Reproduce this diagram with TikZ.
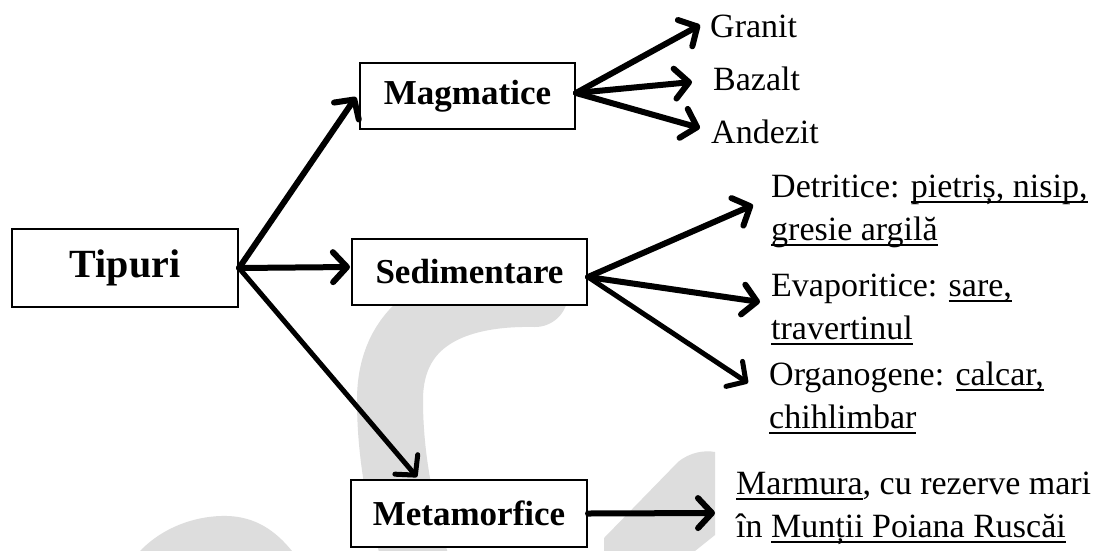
\documentclass[tikz,border=0pt]{standalone}
\usepackage{fontspec}
\setmainfont{Liberation Serif}
\usetikzlibrary{arrows.meta,calc}
\definecolor{wmgray}{RGB}{221,221,221}
\newcommand\ulx[1]{\setbox0=\hbox{#1}\rlap{\rule[-6pt]{\wd0}{2pt}}\box0}
\begin{document}
\begin{tikzpicture}[x=1pt,y=-1pt,
  wm/.style={fill=wmgray,draw=none},
  typebox/.style={draw,line width=2pt,fill=white,inner sep=0pt,
     font=\fontsize{35}{40}\selectfont\bfseries},
  leaf/.style={anchor=base west,inner sep=0pt,font=\fontsize{34}{43}\selectfont},
  arr/.style={line width=6pt,line cap=round,line join=round,
     -{Straight Barb[length=14pt,width=30pt,round]}},
  thinarr/.style={arr,line width=5pt}]
\fill[white] (0,0) rectangle (1100,550);
\useasboundingbox (0,0) rectangle (1100,550);
% watermark
\draw[wmgray,line width=66pt,line cap=round] (535,294) .. controls (440,292) and (390,330) .. (390,400) .. controls (390,455) and (400,510) .. (420,575);
\fill[wm] (140,551) .. controls (165,525) and (200,515) .. (228,516) .. controls (255,517) and (275,530) .. (292,551) -- cycle;
\fill[wm] (604,551) -- (604,538) -- (678,462) .. controls (690,452) and (705,450) .. (715,452) -- (715,535) -- (695,551) -- cycle;
% boxes
\node[typebox,minimum width=226pt,minimum height=78pt,font=\fontsize{40}{44}\selectfont\bfseries] (tip) at (125,268) {Tipuri};
\node[typebox,minimum width=215pt,minimum height=66pt] (mag) at (467.5,96) {Magmatice};
\node[typebox,minimum width=235pt,minimum height=66pt] (sed) at (469.5,272) {Sedimentare};
\node[typebox,minimum width=236pt,minimum height=67pt] (met) at (469,513.5) {Metamorfice};
% leaves
\node[leaf] (gra) at (710,37) {Granit};
\node[leaf] (baz) at (713,90) {Bazalt};
\node[leaf] (and) at (711,143) {Andezit};
\node[leaf] (det) at (771,197) {Detritice: \ulx{pietriș, nisip,}};
\node[leaf] (det2) at (771,240) {\ulx{gresie argilă}};
\node[leaf] (eva) at (771,296) {Evaporitice: \ulx{sare,}};
\node[leaf] (eva2) at (771,339) {\ulx{travertinul}};
\node[leaf] (org) at (769,385) {Organogene: \ulx{calcar,}};
\node[leaf] (org2) at (769,428) {\ulx{chihlimbar}};
\node[leaf] (mar) at (736,494) {\ulx{Marmura}, cu rezerve mari};
\node[leaf] (mar2) at (736,537) {în \ulx{Munții Poiana Ruscăi}};
% arrows
\draw[arr] (tip.east) -- ($(mag.west)+(-3,1)$);
\draw[arr] (tip.east) -- ($(sed.west)+(-1,-5)$);
\draw[thinarr] (tip.east) -- ($(met.north west)+(67,-2)$);
\draw[arr] ($(mag.east)+(0,-3)$) -- ($(gra.base west)+(-10,-12)$);
\draw[arr] ($(mag.east)+(0,-3)$) -- ($(baz.base west)+(-21,-8)$);
\draw[arr] ($(mag.east)+(0,-3)$) -- ($(and.base west)+(-11,-15)$);
\draw[arr] ($(sed.east)+(0,5)$) -- ($(det.base west)+(-18,8)$);
\draw[arr] ($(sed.east)+(0,5)$) -- ($(eva.base west)+(-11,6)$);
\draw[thinarr] ($(sed.east)+(0,5)$) -- ($(org.base west)+(-21,-2)$);
\draw[arr] (met.east) -- ($(mar.base west)+(-21,19)$);
\end{tikzpicture}
\end{document}
